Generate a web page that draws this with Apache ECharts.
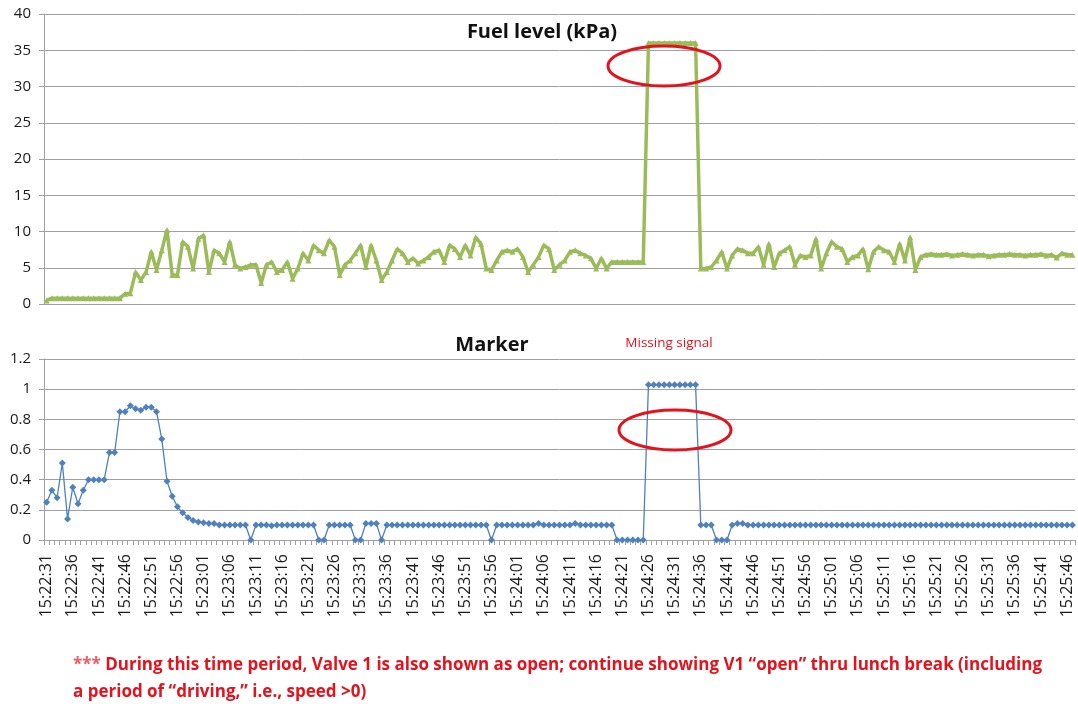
<!DOCTYPE html>
<html>
<head>
<meta charset="utf-8">
<script src="https://cdn.jsdelivr.net/npm/echarts@6/dist/echarts.min.js"></script>
<style>
  html, body { margin: 0; padding: 0; background: #ffffff; }
  #chart { width: 1078px; height: 704px; }
</style>
</head>
<body>
<div id="chart"></div>
<script>
// One sample per second, starting at 15:22:31
const startTime = [15, 22, 31];
const sampleCount = 197;
const timeLabels = [];
for (let k = 0; k < sampleCount; k++) {
  const s = startTime[0] * 3600 + startTime[1] * 60 + startTime[2] + k;
  const hh = Math.floor(s / 3600), mm = Math.floor((s % 3600) / 60), ss = s % 60;
  timeLabels.push(hh + ':' + String(mm).padStart(2, '0') + ':' + String(ss).padStart(2, '0'));
}

// Fuel level (kPa)
const fuelLevel = [
  0.5, 0.8, 0.8, 0.8, 0.8, 0.8, 0.8, 0.8, 0.8, 0.8,
  0.8, 0.8, 0.8, 0.8, 0.8, 1.4, 1.5, 4.4, 3.3, 4.4,
  7.2, 4.7, 7.4, 10.2, 4.0, 4.0, 8.6, 7.9, 4.9, 9.0,
  9.5, 4.4, 7.4, 7.0, 5.8, 8.6, 5.4, 4.9, 5.1, 5.4,
  5.4, 2.9, 5.4, 5.8, 4.4, 4.7, 5.8, 3.5, 4.9, 7.0,
  6.0, 8.1, 7.4, 7.0, 8.8, 7.9, 4.0, 5.4, 6.0, 7.0,
  8.1, 5.1, 8.1, 6.0, 3.3, 4.4, 6.0, 7.6, 7.0, 5.8,
  6.3, 5.6, 6.0, 6.5, 7.2, 7.4, 5.8, 8.1, 7.6, 6.5,
  8.1, 6.7, 9.2, 8.3, 4.9, 4.7, 6.0, 7.2, 7.4, 7.2,
  7.6, 6.5, 4.4, 5.4, 6.5, 8.1, 7.6, 4.7, 5.4, 6.0,
  7.2, 7.4, 7.0, 6.7, 6.3, 4.9, 6.3, 4.9, 5.8, 5.8,
  5.8, 5.8, 5.8, 5.8, 5.8, 36, 36, 36, 36, 36,
  36, 36, 36, 36, 36, 4.9, 4.9, 5.1, 6.0, 7.2,
  4.9, 6.7, 7.6, 7.4, 7.0, 7.0, 7.9, 5.4, 8.3, 5.1,
  7.0, 7.4, 7.9, 5.4, 6.7, 6.5, 6.7, 9.0, 4.9, 7.0,
  8.6, 7.9, 7.6, 5.8, 6.5, 6.7, 7.6, 4.8, 7.2, 7.9,
  7.4, 7.2, 5.8, 8.3, 6.0, 9.2, 4.7, 6.5, 6.8, 6.9,
  6.8, 6.8, 6.9, 6.7, 6.8, 6.9, 6.8, 6.7, 6.8, 6.8,
  6.6, 6.7, 6.8, 6.8, 6.9, 6.8, 6.8, 6.7, 6.8, 6.8,
  6.9, 6.7, 6.8, 6.4, 7.0, 6.8, 6.8
];

// Marker signal
const markerSignal = [
  0.25, 0.33, 0.28, 0.51, 0.14, 0.35, 0.24, 0.33, 0.40, 0.40,
  0.40, 0.40, 0.58, 0.58, 0.85, 0.85, 0.89, 0.87, 0.86, 0.88,
  0.88, 0.85, 0.67, 0.39, 0.29, 0.22, 0.18, 0.15, 0.13, 0.12,
  0.115, 0.11, 0.11, 0.10, 0.10, 0.10, 0.10, 0.10, 0.10, 0,
  0.10, 0.10, 0.10, 0.095, 0.10, 0.10, 0.10, 0.10, 0.10, 0.10,
  0.10, 0.10, 0, 0, 0.10, 0.10, 0.10, 0.10, 0.10, 0,
  0, 0.11, 0.11, 0.11, 0, 0.10, 0.10, 0.10, 0.10, 0.10,
  0.10, 0.10, 0.10, 0.10, 0.10, 0.10, 0.10, 0.10, 0.10, 0.10,
  0.10, 0.10, 0.10, 0.10, 0.10, 0, 0.10, 0.10, 0.10, 0.10,
  0.10, 0.10, 0.10, 0.10, 0.11, 0.10, 0.10, 0.10, 0.10, 0.10,
  0.10, 0.11, 0.10, 0.10, 0.10, 0.10, 0.10, 0.10, 0.10, 0,
  0, 0, 0, 0, 0, 1.03, 1.03, 1.03, 1.03, 1.03,
  1.03, 1.03, 1.03, 1.03, 1.03, 0.10, 0.10, 0.10, 0, 0,
  0, 0.10, 0.11, 0.11, 0.10, 0.10, 0.10, 0.10, 0.10, 0.10,
  0.10, 0.10, 0.10, 0.10, 0.10, 0.10, 0.10, 0.10, 0.10, 0.10,
  0.10, 0.10, 0.10, 0.10, 0.10, 0.10, 0.10, 0.10, 0.10, 0.10,
  0.10, 0.10, 0.10, 0.10, 0.10, 0.10, 0.10, 0.10, 0.10, 0.10,
  0.10, 0.10, 0.10, 0.10, 0.10, 0.10, 0.10, 0.10, 0.10, 0.10,
  0.10, 0.10, 0.10, 0.10, 0.10, 0.10, 0.10, 0.10, 0.10, 0.10,
  0.10, 0.10, 0.10, 0.10, 0.10, 0.10, 0.10
];

const fuelTitle = 'Fuel level (kPa)';
const markerTitle = 'Marker';
const gapNote = 'Missing signal';
const footnoteStars = '***';
const footnoteLine1 = ' During this time period, Valve 1 is also shown as open; continue showing V1 \u201copen\u201d thru lunch break (including';
const footnoteLine2 = 'a period of \u201cdriving,\u201d i.e., speed >0)';

const FONT = '"Open Sans", Lato, sans-serif';
const GRID_GRAY = '#a0a0a0';
const RED = '#e3121d';

const chart = echarts.init(document.getElementById('chart'), null, { renderer: 'canvas' });

const yAxisCommon = {
  type: 'value',
  axisLine: { show: true, lineStyle: { color: GRID_GRAY, width: 1 } },
  axisTick: { show: true, length: 5, lineStyle: { color: GRID_GRAY } },
  splitLine: { show: true, lineStyle: { color: GRID_GRAY, width: 1 } },
  axisLabel: { color: '#1a1a1a', fontFamily: FONT, fontSize: 15, margin: 13 }
};

chart.setOption({
  animation: false,
  backgroundColor: '#ffffff',
  grid: [
    { left: 44, top: 14, width: 1031, height: 290 },
    { left: 44, top: 359, width: 1031, height: 181 }
  ],
  xAxis: [
    {
      type: 'category', gridIndex: 0, data: timeLabels, boundaryGap: true,
      axisLine: { lineStyle: { color: GRID_GRAY } },
      axisTick: { show: false },
      axisLabel: { show: false }
    },
    {
      type: 'category', gridIndex: 1, data: timeLabels, boundaryGap: true,
      axisLine: { lineStyle: { color: GRID_GRAY } },
      axisTick: { show: true, interval: 0, length: 5, alignWithLabel: false, lineStyle: { color: GRID_GRAY } },
      axisLabel: {
        interval: 4, rotate: 90, margin: 14,
        color: '#1a1a1a', fontFamily: FONT, fontSize: 16
      }
    }
  ],
  yAxis: [
    Object.assign({}, yAxisCommon, { gridIndex: 0, min: 0, max: 40, interval: 5 }),
    Object.assign({}, yAxisCommon, {
      gridIndex: 1, min: 0, max: 1.2, interval: 0.2,
      axisLabel: Object.assign({}, yAxisCommon.axisLabel, {
        formatter: v => String(+v.toFixed(1))
      })
    })
  ],
  series: [
    {
      name: fuelTitle, type: 'line', xAxisIndex: 0, yAxisIndex: 0,
      data: fuelLevel,
      symbol: 'triangle', symbolSize: 6, showAllSymbol: true,
      lineStyle: { color: '#9bbb59', width: 3.5 },
      itemStyle: { color: '#9bbb59' }
    },
    {
      name: markerTitle, type: 'line', xAxisIndex: 1, yAxisIndex: 1,
      data: markerSignal,
      symbol: 'diamond', symbolSize: 7, showAllSymbol: true,
      lineStyle: { color: '#4f81bd', width: 1.3 },
      itemStyle: { color: '#4f81bd' }
    }
  ],
  graphic: [
    {
      type: 'text', style: {
        text: fuelTitle, x: 542, y: 32, align: 'center', verticalAlign: 'middle',
        font: 'bold 20px ' + FONT, fill: '#111'
      }
    },
    {
      type: 'text', style: {
        text: markerTitle, x: 492, y: 345, align: 'center', verticalAlign: 'middle',
        font: 'bold 20px ' + FONT, fill: '#111'
      }
    },
    {
      type: 'text', style: {
        text: gapNote, x: 669, y: 343, align: 'center', verticalAlign: 'middle',
        font: '13.5px ' + FONT, fill: RED
      }
    },
    {
      type: 'ellipse', shape: { cx: 664, cy: 66, rx: 56, ry: 20 },
      style: { fill: null, stroke: RED, lineWidth: 3 }, z: 100
    },
    {
      type: 'ellipse', shape: { cx: 675, cy: 430, rx: 56, ry: 20 },
      style: { fill: null, stroke: RED, lineWidth: 3 }, z: 100
    },
    {
      type: 'text', style: {
        text: '{s|' + footnoteStars + '}{t|' + footnoteLine1 + '}',
        x: 73, y: 665, verticalAlign: 'middle',
        rich: {
          s: { font: 'bold 17px ' + FONT, fill: '#ec5a64' },
          t: { font: 'bold 17px ' + FONT, fill: RED }
        }
      }
    },
    {
      type: 'text', style: {
        text: footnoteLine2, x: 73, y: 692, verticalAlign: 'middle',
        font: 'bold 17px ' + FONT, fill: RED
      }
    }
  ]
});
</script>
</body>
</html>
